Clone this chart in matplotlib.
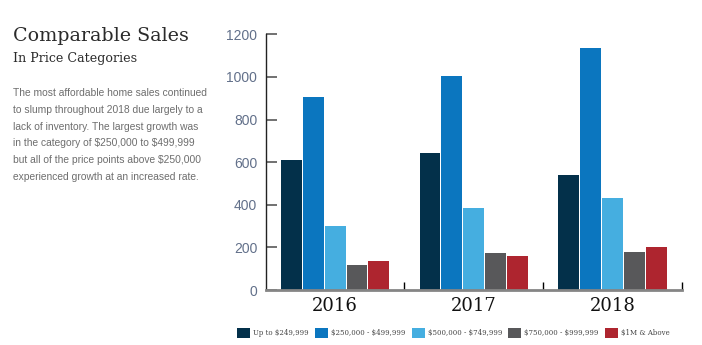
import matplotlib.pyplot as plt
import numpy as np
from matplotlib.patches import Patch

plt.rcParams["text.parse_math"] = False

years = ["2016", "2017", "2018"]
categories = ["Up to $249,999", "$250,000 - $499,999", "$500,000 - $749,999",
              "$750,000 - $999,999", "$1M & Above"]
up_to_250k = [610, 643, 540]
k250_500 = [906, 1004, 1136]
k500_750 = [300, 383, 432]
k750_1m = [117, 174, 178]
m1_above = [137, 160, 202]
series = [up_to_250k, k250_500, k500_750, k750_1m, m1_above]
colors = ["#03304a", "#0b76bf", "#45aee0", "#58585a", "#ae252f"]

title = "Comparable Sales"
subtitle = "In Price Categories"
body = [
    "The most affordable home sales continued",
    "to slump throughout 2018 due largely to a",
    "lack of inventory. The largest growth was",
    "in the category of $250,000 to $499,999",
    "but all of the price points above $250,000",
    "experienced growth at an increased rate.",
]

fig = plt.figure(figsize=(7.02, 3.45), dpi=100)
ax = fig.add_axes([0.3785, 0.1594, 0.593, 0.7412])

x = np.arange(len(years))
step = 0.158
width = 0.151
for i, (vals, c) in enumerate(zip(series, colors)):
    ax.bar(x + (i - 2) * step, vals, width=width, color=c, linewidth=0)

ax.set_xlim(-0.5, 2.5)
ax.set_ylim(0, 1200)
ax.set_yticks(range(0, 1201, 200))
ax.set_xticks(x)
ax.set_xticklabels(years, family="DejaVu Serif", fontsize=13, color="#111111")
ax.set_xticks([0.5, 1.5, 2.5], minor=True)
ax.tick_params(axis="x", which="major", length=0, pad=5)
ax.tick_params(axis="x", which="minor", direction="in", length=6, width=1, color="black")
ax.tick_params(axis="y", direction="in", length=8, width=1.3, color="#666666",
               labelsize=10, labelcolor="#62708a", pad=6)
for lab in ax.get_yticklabels():
    lab.set_family("Liberation Sans")

ax.spines["top"].set_visible(False)
ax.spines["right"].set_visible(False)
ax.spines["left"].set_color("#222222")
ax.spines["left"].set_linewidth(1)
ax.spines["bottom"].set_color("#858585")
ax.spines["bottom"].set_linewidth(2)

fig.text(13 / 702, 1 - 41 / 345, title, family="DejaVu Serif", fontsize=13.7,
         color="#2b2b2b", va="baseline")
fig.text(13 / 702, 1 - 62 / 345, subtitle, family="DejaVu Serif", fontsize=9.1,
         color="#2b2b2b", va="baseline")
for j, line in enumerate(body):
    fig.text(13 / 702, 1 - (93.3 + j * 16.7) / 345, line, family="Liberation Sans",
             fontsize=7.4, color="#6e6e6e", va="center")

handles = [Patch(facecolor=c, edgecolor="none") for c in colors]
fig.legend(handles, categories, loc="center", bbox_to_anchor=(0.646, 0.035), ncol=5,
           frameon=False, prop={"family": "DejaVu Serif", "size": 5.0},
           handlelength=1.85, handleheight=1.85, handletextpad=0.45, columnspacing=0.9,
           labelcolor="#444444")

fig.savefig("out.png", dpi=100)
